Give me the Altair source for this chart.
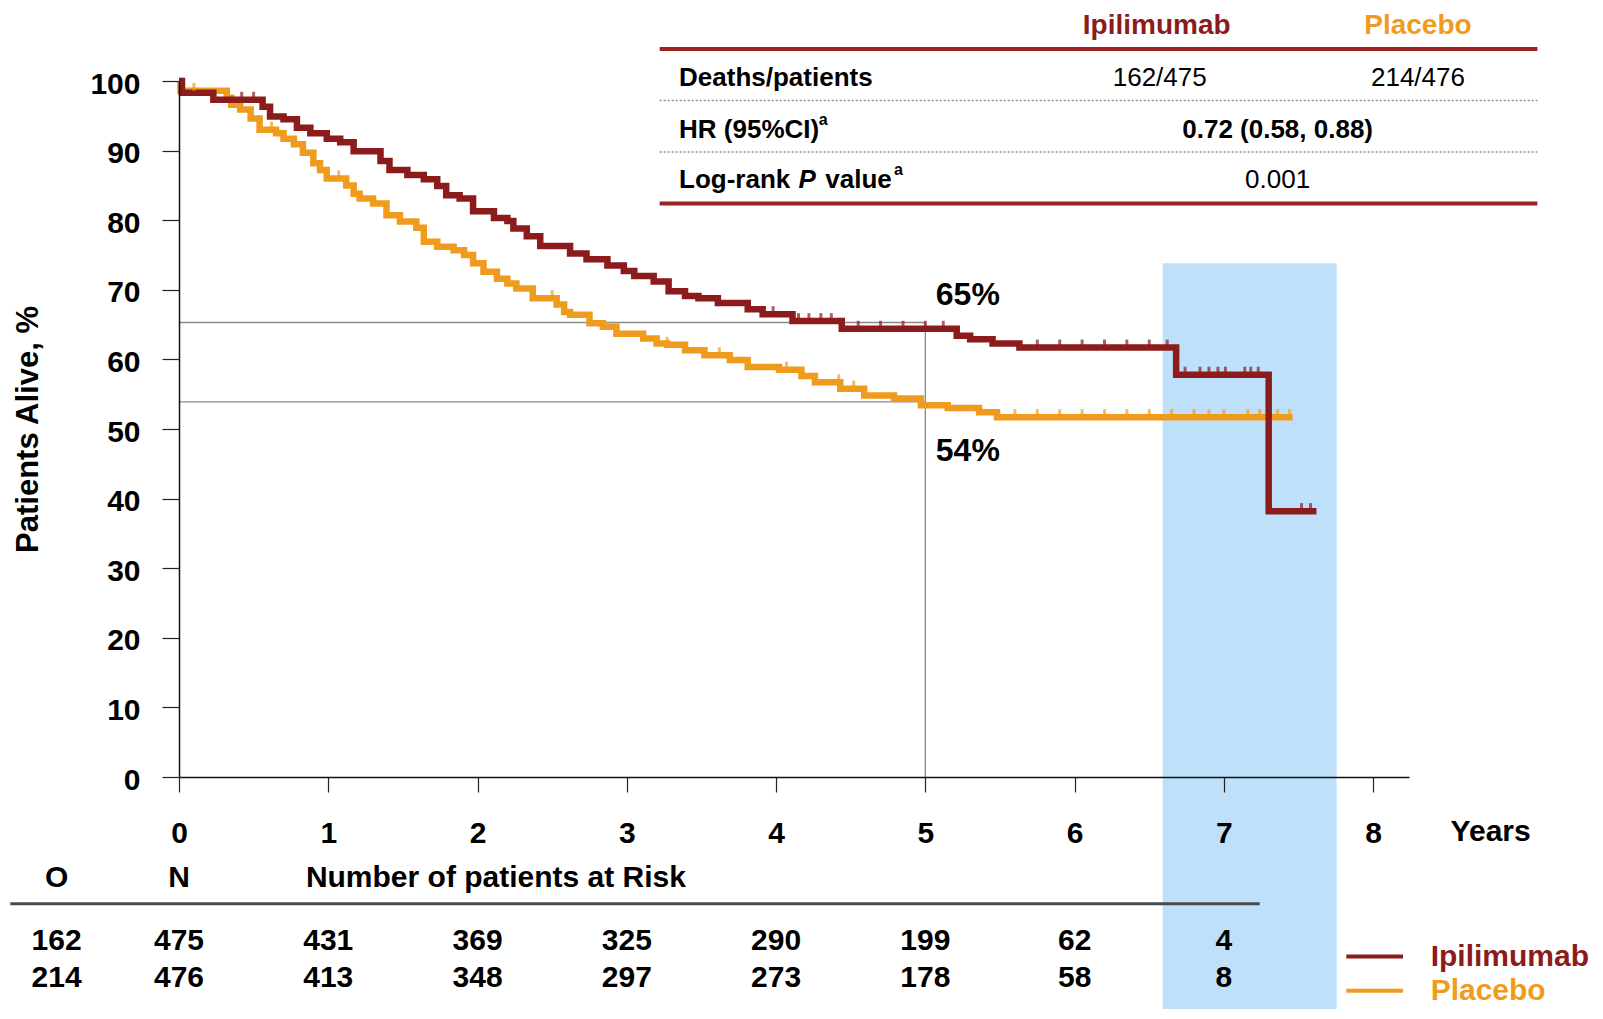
import altair as alt
import pandas as pd

FONT = "Liberation Sans, Arial, Helvetica, sans-serif"
RED = "#8c1c1c"
ORANGE = "#ef9c1e"
BLUE = "#bee0fa"

# ---------------- data ----------------
# Kaplan-Meier overall survival (years, % alive)
ipi_years = [0, 0.02, 0.23, 0.56, 0.61, 0.70, 0.79, 0.88, 0.99, 1.08, 1.17, 1.35, 1.41, 1.53,
             1.64, 1.73, 1.79, 1.88, 1.97, 2.11, 2.20, 2.24, 2.33, 2.42, 2.62, 2.73, 2.87, 2.98,
             3.05, 3.18, 3.28, 3.39, 3.48, 3.61, 3.81, 3.91, 4.11, 4.44, 5.21, 5.30, 5.45, 5.63,
             6.68, 7.30, 7.62]
ipi_alive = [100, 98.3, 97.3, 96.3, 94.9, 94.5, 93.3, 92.5, 91.7, 91.2, 89.9, 88.5, 87.2, 86.5,
             85.9, 84.9, 83.6, 83.1, 81.3, 80.3, 79.9, 78.8, 77.7, 76.3, 75.2, 74.4, 73.5, 72.7,
             72.0, 71.2, 69.8, 69.1, 68.8, 68.1, 67.2, 66.5, 65.5, 64.4, 63.4, 62.9, 62.3, 61.7,
             57.8, 38.2, 38.2]
pbo_years = [0, 0.01, 0.32, 0.35, 0.41, 0.48, 0.54, 0.65, 0.70, 0.77, 0.83, 0.90, 0.945, 0.99,
             1.12, 1.17, 1.21, 1.30, 1.39, 1.48, 1.59, 1.64, 1.73, 1.84, 1.91, 1.97, 2.04, 2.13,
             2.20, 2.26, 2.37, 2.53, 2.58, 2.62, 2.75, 2.84, 2.93, 3.11, 3.20, 3.27, 3.39, 3.52,
             3.69, 3.81, 4.02, 4.17, 4.26, 4.43, 4.59, 4.79, 4.97, 5.15, 5.36, 5.48, 7.46]
pbo_alive = [100, 98.6, 97.6, 96.6, 95.9, 94.6, 93.0, 92.5, 91.7, 90.9, 89.7, 88.2, 87.2, 86.0,
             85.0, 83.8, 83.1, 82.4, 80.7, 79.8, 78.9, 76.9, 76.2, 75.7, 75.0, 73.8, 72.6, 71.6,
             70.9, 70.2, 68.8, 67.9, 66.8, 66.4, 65.2, 64.7, 63.7, 63.0, 62.3, 62.1, 61.3, 60.6,
             59.9, 58.9, 58.5, 57.6, 56.7, 55.8, 54.8, 54.4, 53.4, 53.0, 52.4, 51.7, 51.7]

# censoring marks (years)
ipi_censored = [0.42, 0.50, 1.98, 3.98, 4.15, 4.22, 4.30, 4.37, 4.55, 4.70, 4.85, 5.00, 5.12,
                5.75, 5.90, 6.05, 6.20, 6.35, 6.50, 6.62, 6.74, 6.84, 6.90, 6.96, 7.01, 7.14,
                7.18, 7.23, 7.52, 7.58]
pbo_censored = [0.10, 0.62, 1.07, 2.50, 3.27, 3.62, 4.07, 4.42, 4.52, 5.60, 5.75, 5.90, 6.05,
                6.20, 6.35, 6.50, 6.65, 6.80, 6.90, 7.00, 7.16, 7.24, 7.36, 7.44]

# 5-year landmark
landmark_year = 5
landmark_ipi = 65.3
landmark_pbo = 53.9
landmark_labels = ["65%", "54%"]

# highlighted window (years)
band_years = [6.59, 7.755]

# summary table
arms = ["Ipilimumab", "Placebo"]
table_row_labels = ["Deaths/patients", "HR (95%CI)", "Log-rank"]
deaths_patients = ["162/475", "214/476"]
hr_text = "0.72 (0.58, 0.88)"
p_text = "0.001"

# number at risk
risk_years = [0, 1, 2, 3, 4, 5, 6, 7]
risk_ipi = [475, 431, 369, 325, 290, 199, 62, 4]
risk_pbo = [476, 413, 348, 297, 273, 178, 58, 8]
events = [162, 214]

x_ticks = list(range(9))
y_ticks = list(range(0, 101, 10))

# ---------------- chart ----------------
XS = alt.Scale(domain=[0, 8.24], nice=False, zero=False)
YS = alt.Scale(domain=[0, 100], nice=False, zero=False)

x_axis = alt.Axis(values=x_ticks, format="d", labelFont=FONT, labelFontSize=30,
                  labelFontWeight="bold", labelColor="black", tickSize=15, tickColor="#222",
                  tickWidth=1.2, labelPadding=26, labelFlush=False, domainColor="#111",
                  domainWidth=1.5, grid=False, title="", zindex=2)
y_axis = alt.Axis(values=y_ticks, format="d", labelFont=FONT, labelFontSize=30,
                  labelFontWeight="bold", labelColor="black", tickSize=17, tickColor="#222",
                  tickWidth=1.2, labelPadding=22, labelFlush=False, labelOffset=3,
                  domainColor="#111", domainWidth=1.5,
                  grid=False, title="Patients Alive, %", titleFont=FONT, titleFontSize=31,
                  titleFontWeight="bold", titleColor="black", titleAngle=270, titleX=-151,
                  titleY=348, titleAlign="center", titleBaseline="middle", zindex=2)

XN = alt.X("x:Q", scale=XS, axis=x_axis, title="")
YN = alt.Y("y:Q", scale=YS, axis=y_axis, title="Patients Alive, %")


def level_at(ts, ss, t):
    v = ss[0]
    for a, b in zip(ts, ss):
        if a <= t:
            v = b
        else:
            break
    return v


def text_layer(rows, size, weight="bold", color="black", align="center", style="normal"):
    df = pd.DataFrame(rows, columns=["x", "y", "label"])
    return alt.Chart(df).mark_text(
        font=FONT, fontSize=size, fontWeight=weight, color=color, align=align,
        baseline="middle", fontStyle=style
    ).encode(x=XN, y=YN, text="label:N")


def rule_layer(rows, color, width, dash=None):
    df = pd.DataFrame(rows, columns=["x", "x2", "y", "y2"])
    kw = dict(color=color, strokeWidth=width)
    if dash:
        kw["strokeDash"] = dash
    return alt.Chart(df).mark_rule(**kw).encode(x=XN, x2="x2:Q", y=YN, y2="y2:Q")


band = alt.Chart(pd.DataFrame({"x": [band_years[0]], "x2": [band_years[1]],
                               "y": [73.8], "y2": [-40]})).mark_rect(color=BLUE).encode(
    x=XN, x2="x2:Q", y=YN, y2="y2:Q")

ref_lines = rule_layer([
    (0, landmark_year, landmark_ipi, landmark_ipi),
    (0, landmark_year, landmark_pbo, landmark_pbo),
    (landmark_year, landmark_year, 0, landmark_ipi),
], "#8a8a8a", 1.3)

ipi_df = pd.DataFrame({"x": ipi_years, "y": ipi_alive})
pbo_df = pd.DataFrame({"x": pbo_years, "y": pbo_alive})

ipi_line = alt.Chart(ipi_df).mark_line(interpolate="step-after", color=RED, strokeWidth=6.5).encode(
    x=XN, y=YN)
pbo_line = alt.Chart(pbo_df).mark_line(interpolate="step-after", color=ORANGE, strokeWidth=6.5).encode(
    x=XN, y=YN)

cens_ipi_df = pd.DataFrame({"x": ipi_censored,
                            "y": [level_at(ipi_years, ipi_alive, t) for t in ipi_censored]})
cens_pbo_df = pd.DataFrame({"x": pbo_censored,
                            "y": [level_at(pbo_years, pbo_alive, t) for t in pbo_censored]})
cens_pbo = alt.Chart(cens_pbo_df).mark_tick(orient="vertical", size=8, thickness=3,
                                            yOffset=-4, color=ORANGE).encode(x=XN, y=YN)
cens_ipi = alt.Chart(cens_ipi_df).mark_tick(orient="vertical", size=8, thickness=3,
                                            yOffset=-4, color=RED).encode(x=XN, y=YN)

landmark_text = text_layer([
    (5.07, 69.3, landmark_labels[0]),
    (5.07, 46.9, landmark_labels[1]),
], 32, align="left")

# summary table
table_red = rule_layer([(3.22, 9.10, 104.6, 104.6), (3.22, 9.10, 82.4, 82.4)], "#9a2323", 4)
table_dots = rule_layer([(3.22, 9.10, 97.2, 97.2), (3.22, 9.10, 89.8, 89.8)], "#8a8a8a", 1.5, [2, 2])
head_ipi = text_layer([(6.55, 107.9, arms[0])], 28, color=RED)
head_pbo = text_layer([(8.30, 107.9, arms[1])], 28, color=ORANGE)
row_labels = text_layer([
    (3.35, 100.4, table_row_labels[0]),
    (3.35, 93.0, table_row_labels[1]),
    (3.35, 85.8, table_row_labels[2]),
    (4.33, 85.8, "value"),
], 26, align="left")
p_italic = text_layer([(4.15, 85.8, "P")], 26, align="left", style="italic")
supers = text_layer([(4.285, 94.4, "a"), (4.79, 87.2, "a")], 16, align="left")
table_vals = text_layer([
    (6.57, 100.4, deaths_patients[0]),
    (8.30, 100.4, deaths_patients[1]),
    (7.36, 85.8, p_text),
], 26, weight="normal")
hr_val = text_layer([(7.36, 93.0, hr_text)], 26)

# x-axis unit label
years_lbl = text_layer([(8.787, -7.9, "Years")], 30)

# number at risk table
risk_head = text_layer([(-0.82, -14.5, "O"), (0, -14.5, "N")], 30)
risk_title = text_layer([(0.85, -14.5, "Number of patients at Risk")], 30, align="left")
risk_rule = rule_layer([(-1.13, 7.24, -18.2, -18.2)], "#4a4a4a", 3)
risk_rows = [(-0.82, -23.5, str(events[0])), (-0.82, -28.9, str(events[1]))]
for yr, a, b in zip(risk_years, risk_ipi, risk_pbo):
    risk_rows.append((yr, -23.5, str(a)))
    risk_rows.append((yr, -28.9, str(b)))
risk_text = text_layer(risk_rows, 30)

# legend
legend_lines_ipi = rule_layer([(7.82, 8.20, -25.8, -25.8)], RED, 4)
legend_lines_pbo = rule_layer([(7.82, 8.20, -30.7, -30.7)], ORANGE, 4)
legend_ipi = text_layer([(8.385, -25.8, arms[0])], 30, color=RED, align="left")
legend_pbo = text_layer([(8.385, -30.8, arms[1])], 30, color=ORANGE, align="left")

chart = alt.layer(
    band, ref_lines, pbo_line, ipi_line, cens_pbo, cens_ipi, landmark_text,
    table_red, table_dots, head_ipi, head_pbo, row_labels, p_italic, supers, table_vals, hr_val,
    years_lbl, risk_head, risk_title, risk_rule, risk_text,
    legend_lines_ipi, legend_lines_pbo, legend_ipi, legend_pbo,
).properties(
    width=1230, height=696,
    background="white",
    autosize=alt.AutoSizeParams(type="none"),
    padding={"left": 171, "top": 73, "right": 186, "bottom": 232},
).configure_view(stroke="transparent")

chart.save("out.html", embed_options={"renderer": "svg", "actions": False})
